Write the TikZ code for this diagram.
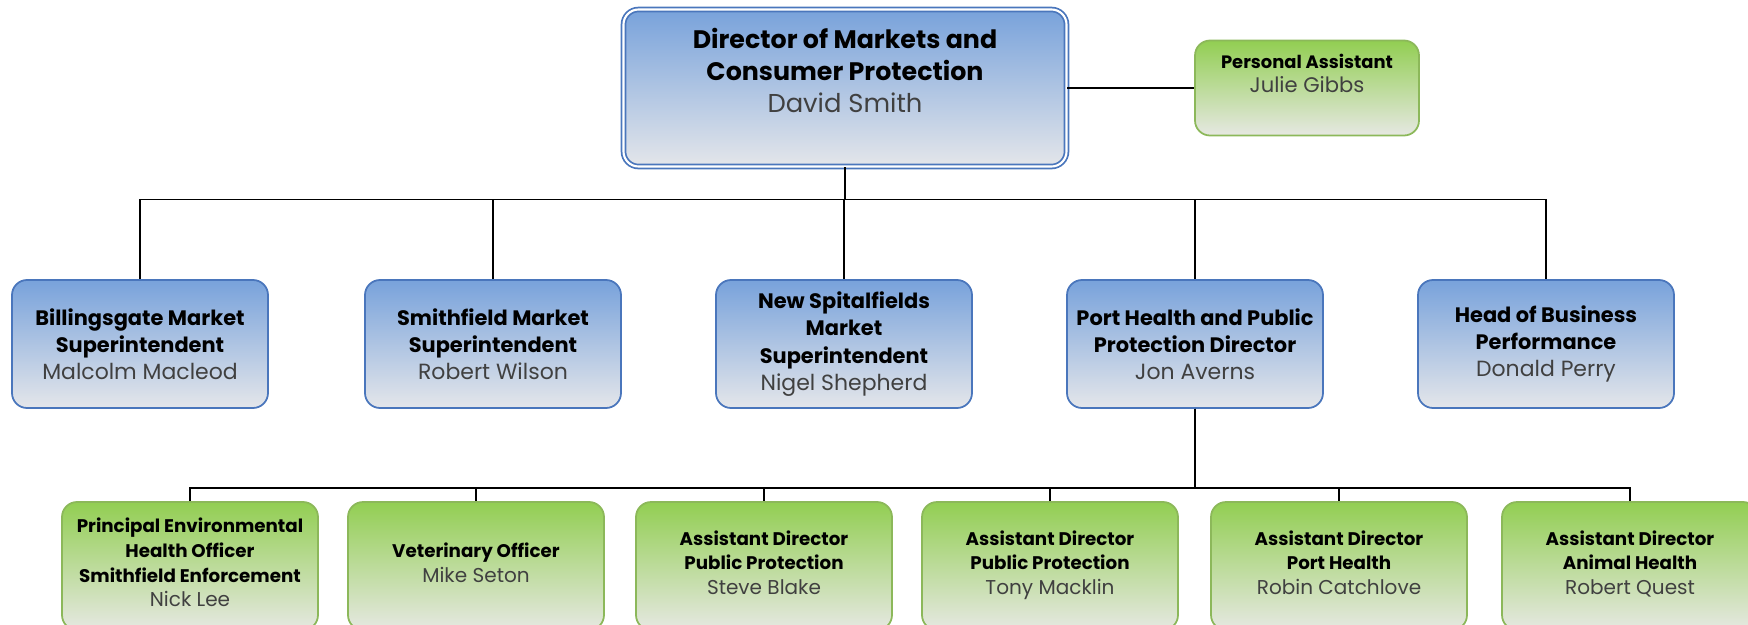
\documentclass[tikz,border=0pt]{standalone}
\usepackage{fontspec}
\setmainfont{Poppins}
\definecolor{blueTop}{HTML}{78A2DB}
\definecolor{blueBot}{HTML}{E4E6EA}
\definecolor{blueEdge}{HTML}{4A76BC}
\definecolor{greenTop}{HTML}{92CE52}
\definecolor{greenBot}{HTML}{E6E8E2}
\definecolor{greenEdge}{HTML}{8CB85A}
\definecolor{nameGray}{HTML}{404040}

\begin{document}
\begin{tikzpicture}[x=0.2mm,y=-0.2mm,line width=0.8pt]
    \tikzstyle{bluebox}=[rectangle,rounded corners=3mm,draw=blueEdge,line width=1pt,top color=blueTop,bottom color=blueBot,minimum width=51.2mm,minimum height=25.6mm,inner sep=0pt,align=center,font=\fontsize{11.9}{15.5}\selectfont\bfseries]
    \tikzstyle{greenbox}=[bluebox,draw=greenEdge,top color=greenTop,bottom color=greenBot,font=\fontsize{10.4}{14}\selectfont\bfseries]
    \useasboundingbox (0,0) rectangle (1748,624);
    \clip (0,0) rectangle (1748,624);

    % top row
    \node[bluebox,double=white,double distance=1.2pt,minimum width=88.6mm,minimum height=31.4mm,font=\fontsize{14.4}{18.3}\selectfont\bfseries] (dir) at (845,88)
        {Director of Markets and\\Consumer Protection\\\mdseries\fontsize{14.7}{18.3}\selectfont\color{nameGray}David Smith\\[0.5mm]\mbox{}};
    \node[greenbox,minimum width=44.8mm,minimum height=19mm,font=\fontsize{10.2}{14}\selectfont\bfseries] (pa) at (1307,88)
        {Personal Assistant\\\mdseries\fontsize{12}{14}\selectfont\color{nameGray}Julie Gibbs\\[1mm]\mbox{}};
    \draw (dir.east) -- (pa.west);

    % second row
    \foreach \name/\x/\title/\person in {bil/140/{Billingsgate Market\\Superintendent}/Malcolm Macleod,
                                         smi/493/{Smithfield Market\\Superintendent}/Robert Wilson,
                                         nsp/844/{New Spitalfields\\Market\\Superintendent}/Nigel Shepherd,
                                         phd/1195/{Port Health and Public\\Protection Director}/Jon Averns,
                                         hbp/1546/{Head of Business\\Performance}/Donald Perry}
        \node[bluebox] (\name) at (\x,344) {\title\\\mdseries\fontsize{12.5}{15.5}\selectfont\color{nameGray}\person};

    \foreach \name in {bil,smi,nsp,phd,hbp}
        \draw (dir.south) -- ++(0,32) -| (\name.north);

    % third row
    \foreach \name/\x/\title/\person in {peh/190/{Principal Environmental\\Health Officer\\Smithfield Enforcement}/Nick Lee,
                                         vet/476/{Veterinary Officer}/Mike Seton,
                                         adsb/764/{Assistant Director\\Public Protection}/Steve Blake,
                                         adtm/1050/{Assistant Director\\Public Protection}/Tony Macklin,
                                         adph/1339/{Assistant Director\\Port Health}/Robin Catchlove,
                                         adah/1630/{Assistant Director\\Animal Health}/Robert Quest}
        \node[greenbox] (\name) at (\x,566) {\title\\\mdseries\fontsize{11.4}{14}\selectfont\color{nameGray}\person\\[-10pt]\mbox{}};

    \foreach \name in {peh,vet,adsb,adtm,adph,adah}
        \draw (phd.south) -- ++(0,79) -| (\name.north);
\end{tikzpicture}
\end{document}
